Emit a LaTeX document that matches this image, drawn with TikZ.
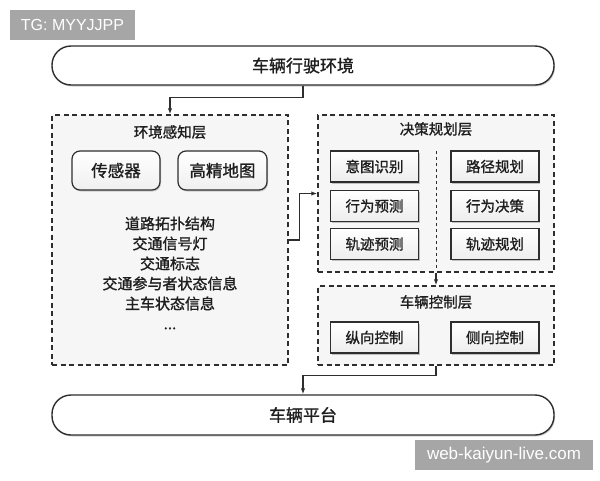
\documentclass[tikz,border=0pt]{standalone}
\usepackage{fontspec}
\setmainfont{Liberation Sans}
\newfontfamily\cjk{Noto Sans CJK SC}[UprightFeatures={FakeBold=1.2}]
\usetikzlibrary{shadows,arrows.meta}
\definecolor{ln}{HTML}{2E2E2E}
\definecolor{wm}{HTML}{A6A6A6}
\definecolor{tx}{HTML}{1E1E1E}
\tikzset{
  bigbox/.style={draw=ln,line width=1.4pt,rounded corners=19pt,fill=white,
    drop shadow={shadow xshift=1pt,shadow yshift=-1.5pt,fill=black!35},
    minimum width=502pt,minimum height=39pt,text=tx,font=\cjk\fontsize{17}{20}\selectfont,inner sep=0pt},
  layer/.style={draw=ln,line width=1.4pt,dash pattern=on 5pt off 3.5pt,fill=gray!7,inner sep=0pt},
  rbox/.style={draw=ln,line width=1.2pt,rounded corners=8pt,top color=white,bottom color=gray!12,
    drop shadow={shadow xshift=1pt,shadow yshift=-1.5pt,fill=black!35},
    minimum width=88pt,minimum height=39pt,inner sep=0pt,text=tx,font=\cjk\fontsize{16.5}{19}\selectfont},
  sbox/.style={draw=ln,line width=1.2pt,top color=white,bottom color=gray!14,
    drop shadow={shadow xshift=1pt,shadow yshift=-1.5pt,fill=black!45},
    minimum width=88pt,minimum height=31pt,inner sep=0pt,text=tx,font=\cjk\fontsize{14.5}{17}\selectfont},
  ttl/.style={text=tx,font=\cjk\fontsize{14.5}{17}\selectfont,inner sep=0pt},
  arr/.style={draw=ln,line width=1.3pt,-{Latex[length=6pt,width=4.5pt]}},
  wmark/.style={fill=wm,text=white,inner sep=0pt,font=\fontsize{16}{19}\selectfont}
}
\begin{document}
\begin{tikzpicture}[x=1pt,y=-1pt]
\useasboundingbox[fill=white] (0,0) rectangle (600,480);
% watermarks
\node[wmark,minimum width=125pt,minimum height=30pt] (tg) at (72.5,25) {TG: MYYJJPP};
\node[wmark,minimum width=178pt,minimum height=30pt,font=\fontsize{17}{20}\selectfont] (web) at (504,455) {web-kaiyun-live.com};
% main boxes
\node[bigbox] (top) at (303,65.5) {车辆行驶环境};
\node[layer,minimum width=236pt,minimum height=250pt] (env) at (170,240) {};
\node[layer,minimum width=236pt,minimum height=157pt] (dec) at (436,193.5) {};
\node[layer,minimum width=236pt,minimum height=79pt] (ctl) at (436,325.5) {};
\node[bigbox,minimum height=40pt] (bot) at (303,415) {车辆平台};
% titles
\node[ttl] (envt) at (170,132) {环境感知层};
\node[ttl] (dect) at (436,129) {决策规划层};
\node[ttl] (ctlt) at (436,302) {车辆控制层};
% environment content
\node[rbox] (sensor) at (116,170.5) {传感器};
\node[rbox,minimum width=89pt] (hdmap) at (222.5,170.5) {高精地图};
\node[align=center,inner sep=0pt,text=tx,font=\cjk\fontsize{15}{20}\selectfont] (list) at (170,273)
  {道路拓扑结构\\交通信号灯\\交通标志\\交通参与者状态信息\\主车状态信息\\...};
% decision boxes
\node[sbox] (d1) at (374.5,166.5) {意图识别};
\node[sbox] (d2) at (374.5,206) {行为预测};
\node[sbox] (d3) at (374.5,244) {轨迹预测};
\node[sbox] (d4) at (495,166.5) {路径规划};
\node[sbox] (d5) at (495,206) {行为决策};
\node[sbox] (d6) at (495,244) {轨迹规划};
\draw[ln,line width=0.9pt,dash pattern=on 3pt off 3pt] (436,151) -- (436,268);
% control boxes
\node[sbox] (c1) at (374.5,337.5) {纵向控制};
\node[sbox] (c2) at (495,337.5) {侧向控制};
% connectors
\draw[arr] (top.south) -- ++(0,12) -| (env.north);
\draw[arr] (env.east) -- ++(11,0) |- (dec.west);
\draw[arr] (dec.south) -- (ctl.north);
\draw[arr] (ctl.south) -- ++(0,10) -| (bot.north);
\end{tikzpicture}
\end{document}
